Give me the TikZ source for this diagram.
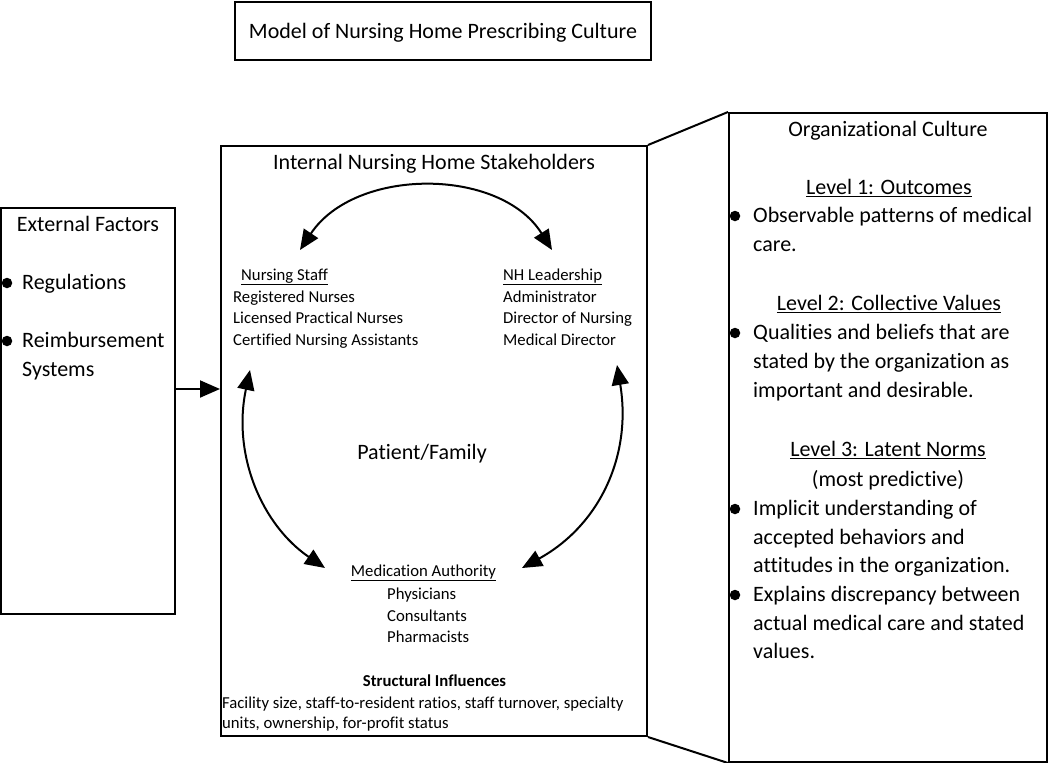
\documentclass[tikz,border=0pt]{standalone}
\usepackage{fontspec}
\setmainfont{Carlito}[Ligatures=NoCommon]
\usetikzlibrary{arrows.meta}
\tikzset{
  box/.style={draw, line width=2pt, inner sep=0pt},
  big/.style={inner sep=0pt, yshift=-4.5pt, font=\fontsize{22}{26}\selectfont},
  small/.style={inner sep=0pt, yshift=-3pt, font=\fontsize{16.7}{20}\selectfont},
  rt/.style={inner sep=0pt, yshift=-4.5pt, font=\fontsize{22}{26}\selectfont},
  conn/.style={line width=2pt, {Triangle[length=20pt,width=17pt]}-{Triangle[length=20pt,width=17pt]}},
  oneway/.style={line width=2pt, -{Triangle[length=20pt,width=17pt]}},
  dot/.style={circle, fill, inner sep=0pt, minimum size=10.5pt},
  edge/.style={line width=2pt},
}
\begin{document}
\begin{tikzpicture}[x=1pt,y=-1pt]
\useasboundingbox (0,0) rectangle (1050,763);
% title
\node[box, minimum width=416pt, minimum height=58pt] (title) at (443,31) {};
\node[big, anchor=mid] (titlet) at (443,32) {Model of Nursing Home Prescribing Culture};
% boxes
\node[box, minimum width=174pt, minimum height=406pt] (ext) at (88,411) {};
\node[box, minimum width=426pt, minimum height=590pt] (int) at (434,441) {};
\node[box, minimum width=318pt, minimum height=649pt] (org) at (888,437.5) {};
\draw[edge] (int.north east) -- (org.north west);
\draw[edge] (int.south east) -- (org.south west);
% external
\node[big, anchor=mid] (extt) at (88,225) {External Factors};
\node[dot] (eb1) at (7,283) {};
\node[big, anchor=mid west] (reg) at (22,283) {Regulations};
\node[dot] (eb2) at (7,341) {};
\node[big, anchor=mid west] (reim) at (22,341) {Reimbursement};
\node[big, anchor=mid west] (sys) at (22,370) {Systems};
\coordinate (ay) at (0,389);
\draw[oneway] (ext.east |- ay) -- (int.west |- ay);
% internal
\node[big, anchor=mid] (intt) at (434,163) {Internal Nursing Home Stakeholders};
\node[small, anchor=mid west] (ns) at (241,275) {\underline{Nursing Staff}};
\node[small, anchor=mid west] (ns1) at (233,297) {Registered Nurses};
\node[small, anchor=mid west] (ns2) at (233,318) {Licensed Practical Nurses};
\node[small, anchor=mid west] (ns3) at (233,340) {Certified Nursing Assistants};
\node[small, anchor=mid west] (nh) at (503,275) {\underline{NH Leadership}};
\node[small, anchor=mid west] (nh1) at (503,297) {Administrator};
\node[small, anchor=mid west] (nh2) at (503,318) {Director of Nursing};
\node[small, anchor=mid west] (nh3) at (503,340) {Medical Director};
\node[big, anchor=mid] (pf) at (422,453) {Patient/Family};
\node[small, anchor=mid] (ma) at (423.5,571) {\underline{Medication Authority}};
\node[small, anchor=mid west] (ma1) at (387,594) {Physicians};
\node[small, anchor=mid west] (ma2) at (387,616) {Consultants};
\node[small, anchor=mid west] (ma3) at (387,637) {Pharmacists};
\node[small, anchor=mid, font=\fontsize{16.7}{20}\selectfont\bfseries] (si) at (434.5,681) {Structural Influences};
\node[small, anchor=mid west] (si1) at (222,703) {Facility size, staff-to-resident ratios, staff turnover, specialty};
\node[small, anchor=mid west] (si2) at (222,723) {units, ownership, for-profit status};
% circular arrows
\coordinate (tl) at (300,250);
\coordinate (tr) at (552,250);
\coordinate (ls) at (250,370);
\coordinate (lm) at (325,568);
\coordinate (rs) at (617,365);
\coordinate (rm) at (522,568);
\draw[conn] (tl) .. controls (355,167) and (500,167) .. (tr);
\draw[conn] (ls) .. controls (232,455) and (262,525) .. (lm);
\draw[conn] (rs) .. controls (632,455) and (600,525) .. (rm);
% organizational culture
\node[rt, anchor=mid] (oc) at (888,130) {Organizational Culture};
\node[rt, anchor=mid] (l1) at (889,188) {\underline{Level 1: Outcomes}};
\node[dot] (b1) at (735,216) {};
\node[rt, anchor=mid west] (l1a) at (753,216) {Observable patterns of medical};
\node[rt, anchor=mid west] (l1b) at (753,245) {care.};
\node[rt, anchor=mid] (l2) at (889,304) {\underline{Level 2: Collective Values}};
\node[dot] (b2) at (735,333) {};
\node[rt, anchor=mid west] (l2a) at (753,333) {Qualities and beliefs that are};
\node[rt, anchor=mid west] (l2b) at (753,362) {stated by the organization as};
\node[rt, anchor=mid west] (l2c) at (753,391) {important and desirable.};
\node[rt, anchor=mid] (l3) at (888,450) {\underline{Level 3: Latent Norms}};
\node[rt, anchor=mid] (l3p) at (888,480) {(most predictive)};
\node[dot] (b3) at (735,509) {};
\node[rt, anchor=mid west] (l3a) at (753,509) {Implicit understanding of};
\node[rt, anchor=mid west] (l3b) at (753,538) {accepted behaviors and};
\node[rt, anchor=mid west] (l3c) at (753,566) {attitudes in the organization.};
\node[dot] (b4) at (735,595) {};
\node[rt, anchor=mid west] (l3d) at (753,595) {Explains discrepancy between};
\node[rt, anchor=mid west] (l3e) at (753,624) {actual medical care and stated};
\node[rt, anchor=mid west] (l3f) at (753,652) {values.};
\end{tikzpicture}
\end{document}
